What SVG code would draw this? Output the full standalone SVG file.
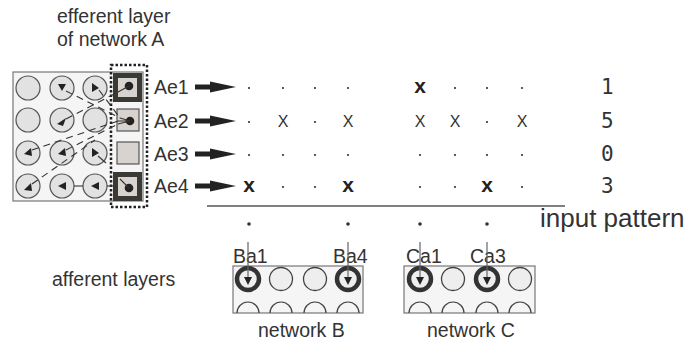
<svg xmlns="http://www.w3.org/2000/svg" width="692" height="347" viewBox="0 0 692 347">
<style>
text{font-family:"Liberation Sans",Arial,sans-serif;fill:#333}
.lbl{font-size:19.5px}
.xb{font-size:21px;font-weight:bold;text-anchor:middle;fill:#222}
.xt{font-size:16px;text-anchor:middle;fill:#333}
.cnt{font-family:"DejaVu Sans Mono",monospace;font-size:21px;fill:#333}
.cell{fill:#e2e2e2;stroke:#555;stroke-width:1.2}
.dash{stroke:#333;stroke-width:1.1;stroke-dasharray:7,5;fill:none}
.sol{stroke:#333;stroke-width:1.1;fill:none}
.tri{fill:#222}
.dot{fill:#333}
.aff{fill:#eeeeee;stroke:#444;stroke-width:1.3}
.affk{fill:#eeeeee;stroke:#333;stroke-width:4.5}
.arc{fill:none;stroke:#444;stroke-width:1.2}
.box{fill:#f5f5f5;stroke:#777;stroke-width:1.2}
.inarr{stroke:#666;stroke-width:1.2}
</style>
<defs>
<g id="ar"><rect x="195" y="-2.5" width="17" height="5" fill="#222"/><polygon points="210,-5.5 236,0 210,5.5" fill="#222"/></g>
<polygon id="dn" points="-4,-8 4,-8 0,0" fill="#222"/>
</defs>

<g id="title">
<text class="lbl" x="57" y="23">efferent layer</text>
<text class="lbl" x="57" y="46">of network A</text>
</g>

<g id="networkA">
<rect class="box" x="13" y="72" width="130" height="129"/>
<circle class="cell" cx="28" cy="88" r="12"/>
<circle class="cell" cx="62" cy="88" r="12"/>
<circle class="cell" cx="95" cy="88" r="12"/>
<circle class="cell" cx="28" cy="120" r="12"/>
<circle class="cell" cx="62" cy="120" r="12"/>
<circle class="cell" cx="95" cy="120" r="12"/>
<circle class="cell" cx="28" cy="153" r="12"/>
<circle class="cell" cx="62" cy="153" r="12"/>
<circle class="cell" cx="95" cy="153" r="12"/>
<circle class="cell" cx="28" cy="186" r="12"/>
<circle class="cell" cx="62" cy="186" r="12"/>
<circle class="cell" cx="95" cy="186" r="12"/>
<rect x="115.5" y="75.5" width="24" height="24" fill="#d8d3cf" stroke="#3a3a35" stroke-width="5"/>
<rect x="117" y="109" width="22" height="22" fill="#d8d3cf" stroke="#555" stroke-width="1.2"/>
<rect x="117" y="142" width="22" height="22" fill="#d8d3cf" stroke="#555" stroke-width="1.2"/>
<rect x="115.5" y="174.5" width="24" height="24" fill="#d8d3cf" stroke="#3a3a35" stroke-width="5"/>
<circle cx="129" cy="86" r="4.3" fill="#222"/>
<circle cx="130" cy="121" r="4.3" fill="#222"/>
<circle cx="129" cy="188" r="4.3" fill="#222"/>
<polygon class="tri" points="58,84 66,84 62,91"/>
<polygon class="tri" points="92,83 92,92 99,88"/>
<polygon class="tri" points="57,124 66,118 63,126"/>
<polygon class="tri" points="24,154 31,148 32,156"/>
<polygon class="tri" points="58,154 65,148 66,156"/>
<polygon class="tri" points="92,148 92,157 99,153"/>
<polygon class="tri" points="24,190 31,183 32,191"/>
<polygon class="tri" points="58,186 66,182 66,190"/>
<polygon class="tri" points="91,186 99,182 99,190"/>
<rect x="111" y="65" width="36" height="142" fill="none" stroke="#222" stroke-width="2.5" stroke-dasharray="2.5,2"/>
</g>

<g id="connectorsA">
<path class="dash" d="M66,91 L120,118"/>
<path class="dash" d="M99,90 L120,118"/>
<path class="dash" d="M66,119 L118,92"/>
<path class="sol" d="M118,92 L129,86"/>
<path class="dash" d="M32,150 L118,121"/>
<path class="dash" d="M66,150 L118,124"/>
<path class="dash" d="M32,184 L95,140"/>
<path class="sol" d="M120,118 L130,121 M118,121 L130,121 M118,124 L130,121"/>
<path class="sol" d="M98,156 L106,163"/>
<path class="sol" d="M120,179 L129,188"/>
<path class="sol" d="M74,186 L83,186"/>
<path class="sol" d="M107,186 L116,186"/>
</g>

<g id="rows">
<text class="lbl" x="154" y="94">Ae1</text>
<text class="lbl" x="154" y="128">Ae2</text>
<text class="lbl" x="154" y="161">Ae3</text>
<text class="lbl" x="154" y="193">Ae4</text>
<use href="#ar" y="87"/>
<use href="#ar" y="121"/>
<use href="#ar" y="154"/>
<use href="#ar" y="186"/>
</g>

<g id="pattern">
<g class="dot">
<circle cx="249" cy="88" r="1.1"/><circle cx="283" cy="88" r="1.1"/><circle cx="315" cy="88" r="1.1"/><circle cx="348" cy="88" r="1.1"/><circle cx="455" cy="88" r="1.1"/><circle cx="487" cy="88" r="1.1"/><circle cx="522" cy="88" r="1.1"/>
<circle cx="249" cy="122" r="1.1"/><circle cx="315" cy="122" r="1.1"/><circle cx="487" cy="122" r="1.1"/>
<circle cx="249" cy="155" r="1.1"/><circle cx="283" cy="155" r="1.1"/><circle cx="315" cy="155" r="1.1"/><circle cx="348" cy="155" r="1.1"/><circle cx="420" cy="155" r="1.1"/><circle cx="455" cy="155" r="1.1"/><circle cx="487" cy="155" r="1.1"/><circle cx="522" cy="155" r="1.1"/>
<circle cx="283" cy="187" r="1.1"/><circle cx="315" cy="187" r="1.1"/><circle cx="420" cy="187" r="1.1"/><circle cx="455" cy="187" r="1.1"/><circle cx="522" cy="187" r="1.1"/>
</g>
<text class="xb" x="420" y="93">x</text>
<text class="xt" x="283" y="127">X</text>
<text class="xt" x="348" y="127">X</text>
<text class="xt" x="420" y="127">X</text>
<text class="xt" x="455" y="127">X</text>
<text class="xt" x="522" y="127">X</text>
<text class="xb" x="249" y="192">x</text>
<text class="xb" x="348" y="192">x</text>
<text class="xb" x="487" y="192">x</text>
<text class="cnt" x="601" y="94">1</text>
<text class="cnt" x="601" y="128">5</text>
<text class="cnt" x="601" y="161">0</text>
<text class="cnt" x="601" y="193">3</text>
<line x1="207" y1="206" x2="565" y2="206" stroke="#555" stroke-width="1.3"/>
<circle class="dot" cx="249" cy="224" r="1.8"/>
<circle class="dot" cx="348" cy="224" r="1.8"/>
<circle class="dot" cx="420" cy="224" r="1.8"/>
<circle class="dot" cx="487" cy="224" r="1.8"/>
<text x="540" y="227" style="font-size:26px">input pattern</text>
</g>

<text class="lbl" x="52" y="286">afferent layers</text>

<g id="networkB">
<rect class="box" x="233" y="266" width="130" height="47"/>
<circle class="affk" cx="248" cy="279" r="11"/>
<circle class="aff" cx="281" cy="279" r="11.5"/>
<circle class="aff" cx="315" cy="279" r="11.5"/>
<circle class="affk" cx="348" cy="279" r="11"/>
<path class="arc" d="M237,313 A11,11 0 0 1 259,313 M270,313 A11,11 0 0 1 292,313 M304,313 A11,11 0 0 1 326,313 M337,313 A11,11 0 0 1 359,313"/>
<text class="lbl" x="233" y="263">Ba1</text>
<text class="lbl" x="333" y="263">Ba4</text>
<text class="lbl" x="258" y="337">network B</text>
</g>

<g id="networkC">
<rect class="box" x="404" y="266" width="131" height="47"/>
<circle class="affk" cx="420" cy="279" r="11"/>
<circle class="aff" cx="453" cy="279" r="11.5"/>
<circle class="affk" cx="487" cy="279" r="11"/>
<circle class="aff" cx="520" cy="279" r="11.5"/>
<path class="arc" d="M409,313 A11,11 0 0 1 431,313 M442,313 A11,11 0 0 1 464,313 M476,313 A11,11 0 0 1 498,313 M509,313 A11,11 0 0 1 531,313"/>
<text class="lbl" x="406" y="263">Ca1</text>
<text class="lbl" x="470" y="263">Ca3</text>
<text class="lbl" x="427" y="337">network C</text>
</g>

<g id="connectorsBC">
<line class="inarr" x1="248" y1="242" x2="248" y2="278"/>
<line class="inarr" x1="348" y1="242" x2="348" y2="278"/>
<line class="inarr" x1="420" y1="242" x2="420" y2="278"/>
<line class="inarr" x1="487" y1="242" x2="487" y2="278"/>
<use href="#dn" x="248" y="285"/>
<use href="#dn" x="348" y="285"/>
<use href="#dn" x="420" y="285"/>
<use href="#dn" x="487" y="285"/>
</g>
</svg>
